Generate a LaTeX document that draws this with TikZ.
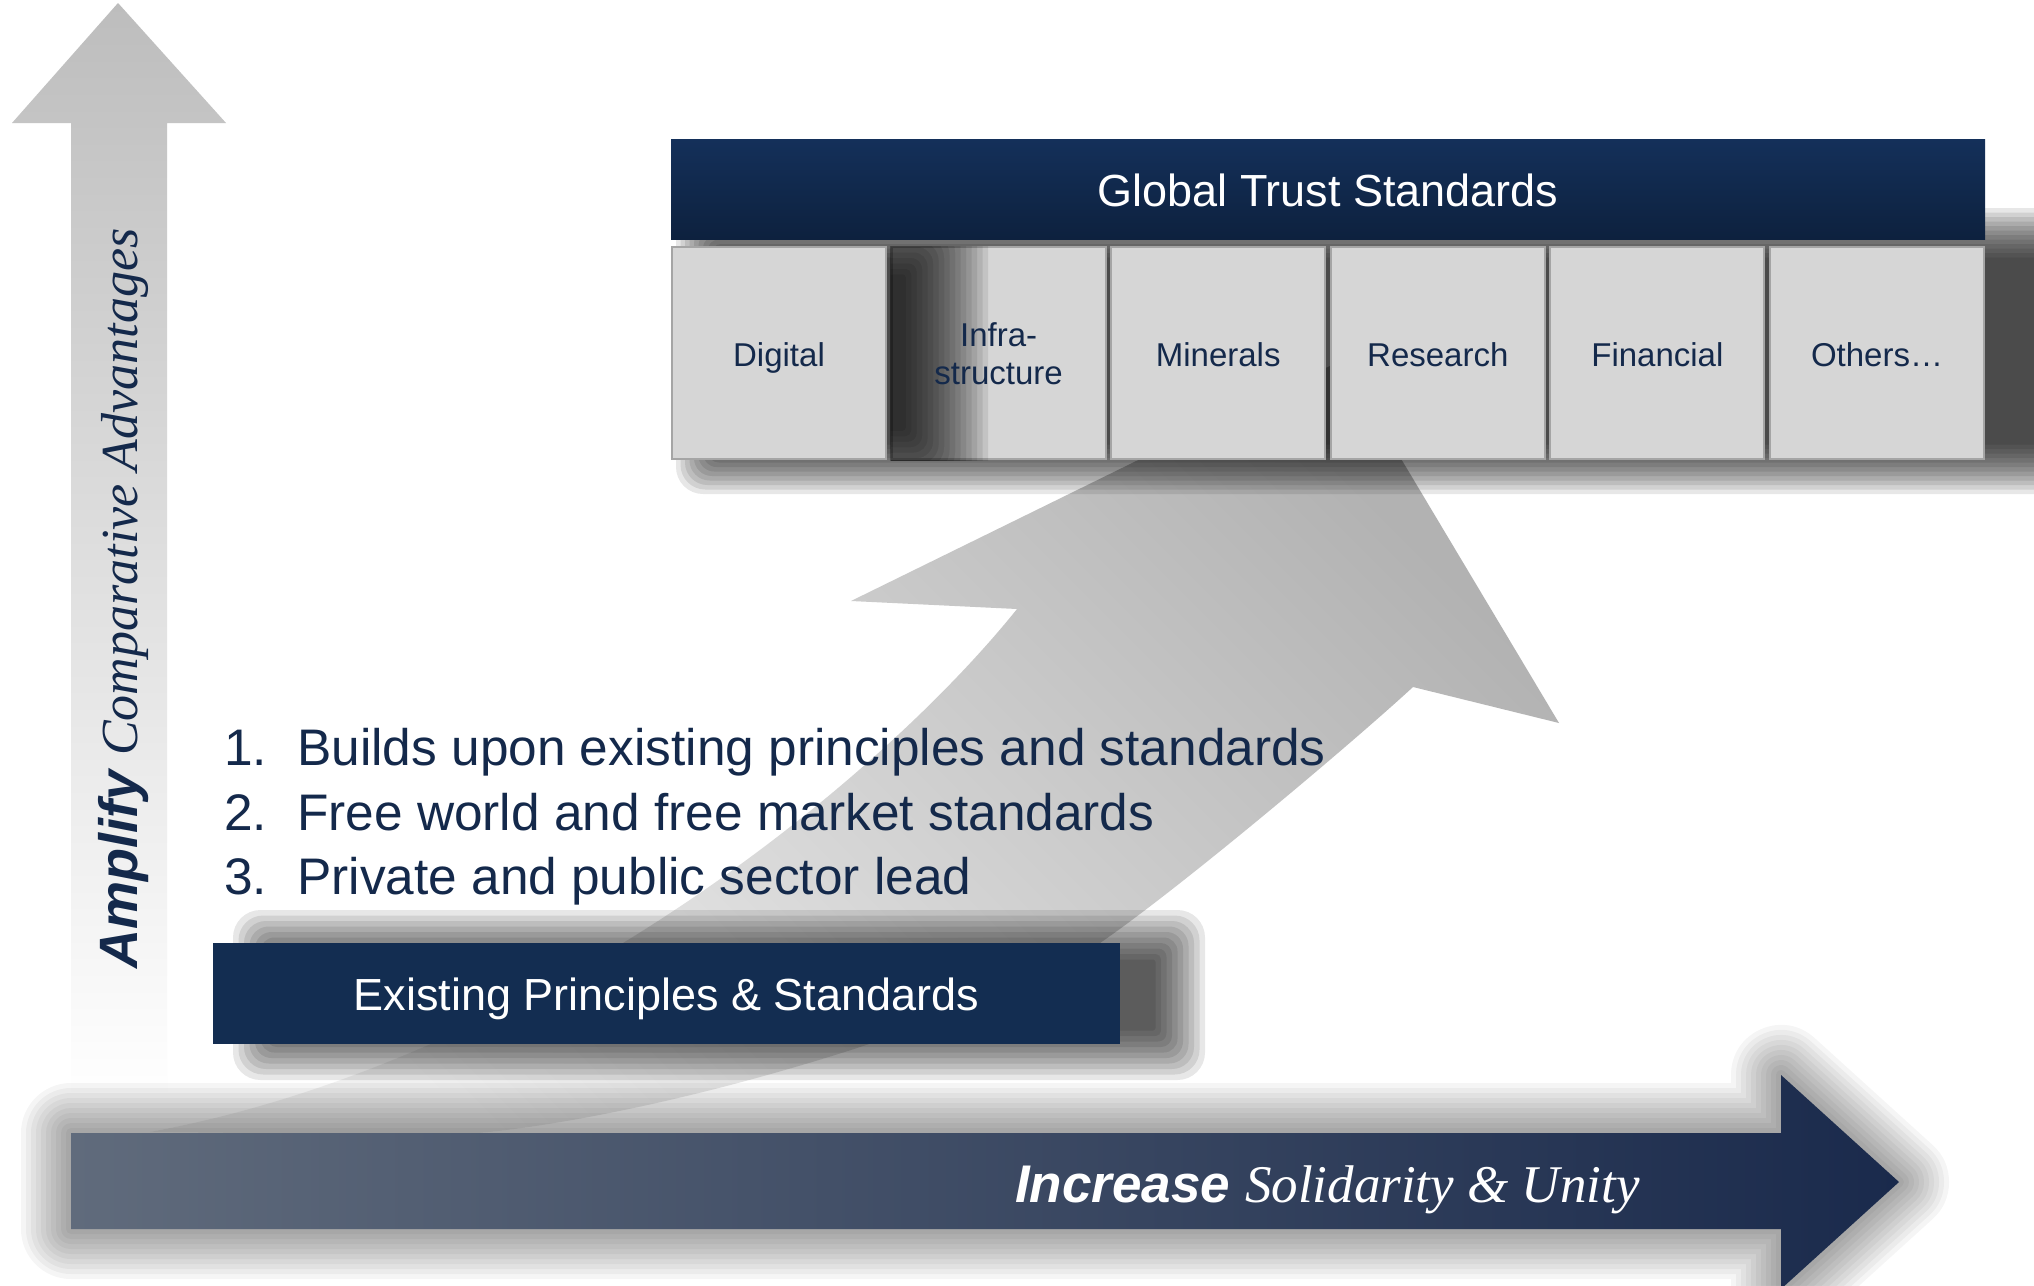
\documentclass[tikz,border=0pt]{standalone}
\usepackage{fontspec}
\setmainfont{Liberation Sans}
\newfontfamily\serifit{Liberation Serif}
\definecolor{navy}{HTML}{14294B}
\definecolor{barnavy}{HTML}{14305A}
\definecolor{bardark}{HTML}{0D213E}
\definecolor{boxnavy}{HTML}{132D51}
\definecolor{boxgray}{HTML}{D6D6D6}
\definecolor{boxline}{HTML}{A5A5A5}
\definecolor{arrowgray}{HTML}{BDBDBD}
\definecolor{slate}{HTML}{606B7C}
\definecolor{deepnavy}{HTML}{1A2A4C}
\definecolor{curvelight}{HTML}{F0F0F0}
\definecolor{curvedark}{HTML}{B2B2B2}

% soft shadow: x1 y1 x2 y2 layers step opacity
\newcommand\softrect[7]{%
  \foreach \k in {1,...,#5}{%
    \fill[black, fill opacity=#7, rounded corners={\k*#6*0.5pt}]
      ({#1-\k*#6},{#2-\k*#6}) rectangle ({#3+\k*#6},{#4+\k*#6});
  }}

\def\botpath{(71,1133) -- (1781,1133) -- (1781,1075) -- (1899,1182) -- (1781,1289) -- (1781,1229) -- (71,1229) -- cycle}

\begin{document}
\begin{tikzpicture}[x=1pt,y=-1pt,
  catbox/.style={draw=boxline, line width=2pt, fill=boxgray, minimum width=214pt,
    minimum height=212pt, inner sep=0pt, text=navy, font=\fontsize{33}{40}\selectfont,
    text height=26pt, text depth=0pt},
  catlabel/.style={inner sep=0pt, text=navy, font=\fontsize{33}{38}\selectfont, align=center},
  bandbox/.style={inner sep=0pt, text=white, font=\fontsize{45}{54}\selectfont,
    text depth=0pt},
  listline/.style={anchor=base west, inner sep=0pt, text=navy, font=\fontsize{51.4}{60}\selectfont},
]
\clip (0,0) rectangle (2034,1285);
\useasboundingbox (0,0) rectangle (2034,1285);
\fill[white] (0,0) rectangle (2034,1285);

% vertical arrow
\shade[top color=arrowgray, bottom color=white]
  (118,3) -- (226,123) -- (167,123) -- (167,1100) -- (71,1100) -- (71,123) -- (12,123) -- cycle;

% curved arrow
\shade[top color=curvedark, bottom color=curvelight, shading angle=-45]
  (150,1132) .. controls (540,1060) and (880,780) .. (1017,609)
  -- (851,601) -- (1342,360) -- (1559,723) -- (1413,687)
  .. controls (1350,745) and (1180,888) .. (1100,943)
  .. controls (990,1020) and (640,1125) .. (450,1135) -- cycle;

% shadows
\softrect{730}{262}{2080}{440}{12}{4.5}{0.095}
\softrect{288}{965}{1150}{1025}{10}{5.5}{0.095}
\foreach \k in {1,...,10}{%
  \draw[black, draw opacity=0.04, line width={2*\k*5pt}, line join=round] \botpath;
}

% category boxes
\node[catbox] (digital) at (779,353) {Digital};
\node[catbox, text height=0pt] (infra) at (998.6,353) {};
\begin{scope}
  \clip (infra.south west) rectangle (infra.north east);
  \softrect{850}{280}{900}{425}{16}{5.5}{0.085}
\end{scope}
\node[catlabel] (infralabel) at (998.6,354) {Infra-\\structure};
\node[catbox] (minerals) at (1218.2,353) {Minerals};
\node[catbox] (research) at (1437.8,353) {Research};
\node[catbox] (financial) at (1657.4,353) {Financial};
\node[catbox] (others) at (1877,353) {Others…};

% global trust standards bar
\node[bandbox, top color=barnavy, bottom color=bardark, minimum width=1314pt,
  minimum height=100pt, text height=34pt] (gts) at (1328,189) {Global Trust Standards};

% existing principles box
\node[bandbox, fill=boxnavy, minimum width=907pt, minimum height=101pt,
  text height=33pt] (eps) at (666.5,993.5) {Existing Principles \& Standards};

% bottom arrow
\shade[left color=slate, right color=deepnavy] \botpath;
\node[anchor=base west, inner sep=0pt, text=white, font=\fontsize{53}{60}\selectfont]
  (increase) at (1015,1202) {{\bfseries\itshape Increase} {\serifit\itshape Solidarity \& Unity}};

% vertical label
\node[rotate=90, anchor=base west, inner sep=0pt, text=navy, font=\fontsize{54}{60}\selectfont]
  (amplify) at (137,969) {{\bfseries\itshape Amplify} {\serifit\fontsize{52}{60}\selectfont\itshape Comparative Advantages}};

% list
\node[listline] (l1) at (224,765) {\makebox[73pt][l]{1.}Builds upon existing principles and standards};
\node[listline] (l2) at (224,830) {\makebox[73pt][l]{2.}Free world and free market standards};
\node[listline] (l3) at (224,894) {\makebox[73pt][l]{3.}Private and public sector lead};
\end{tikzpicture}
\end{document}
